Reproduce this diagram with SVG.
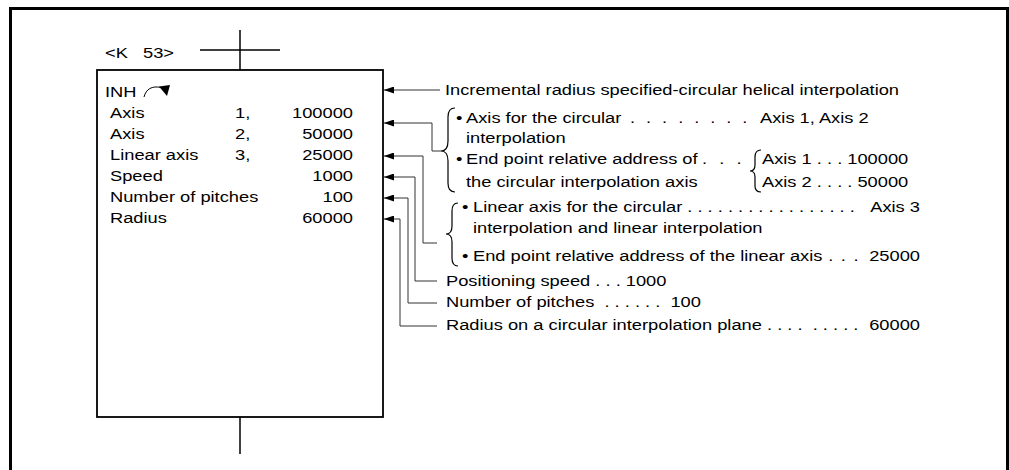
<svg xmlns="http://www.w3.org/2000/svg" width="1009" height="470" viewBox="0 0 1009 470">
<defs>
<marker id="ah" viewBox="0 0 10 7" refX="10" refY="3.5" markerWidth="10" markerHeight="7" markerUnits="userSpaceOnUse" orient="auto-start-reverse"><path d="M0,0 L10,3.5 L0,7 z" fill="#000"/></marker>
<style>
text{font-family:"Liberation Sans",Arial,sans-serif;font-size:15.5px;fill:#000;white-space:pre}
.conn{fill:none;stroke:#333;stroke-width:1}
.brace{fill:none;stroke:#000;stroke-width:1.2}
.frame{stroke:#000;stroke-width:3;fill:none}
.box{fill:#fff;stroke:#000;stroke-width:1.8}
.stub{stroke:#000;stroke-width:1.5}
.end{text-anchor:end}
</style>
</defs>
<rect width="1009" height="470" fill="#fff"/>
<path class="frame" d="M10.5,470 V8.5 H1007.5 V470"/>

<g id="rung">
<line class="stub" x1="200" y1="50" x2="280" y2="50"/>
<line class="stub" x1="240" y1="30" x2="240" y2="70"/>
<line class="stub" x1="240" y1="417" x2="240" y2="454"/>
<g transform="scale(1.18 1)"><text x="88.98" y="58">&lt;K</text><text x="121.19" y="58">53&gt;</text></g>
</g>

<g id="step-K53">
<rect class="box" x="97" y="70" width="286" height="347"/>
<path d="M144,97 C146,89 152,85.5 161,87.5" fill="none" stroke="#000" stroke-width="1"/>
<polygon points="159,86.5 170,85 167,96" fill="#000"/>
<g transform="scale(1.18 1)">
<text x="88.98" y="97">INH</text>
<text x="93.22" y="118">Axis</text><text x="199.15" y="118">1,</text><text class="end" x="299.15" y="118">100000</text>
<text x="93.22" y="139">Axis</text><text x="199.15" y="139">2,</text><text class="end" x="299.15" y="139">50000</text>
<text x="93.22" y="160.5">Linear axis</text><text x="199.15" y="160.5">3,</text><text class="end" x="299.15" y="160.5">25000</text>
<text x="93.22" y="181.5">Speed</text><text class="end" x="299.15" y="181.5">1000</text>
<text x="93.22" y="202.5">Number of pitches</text><text class="end" x="299.15" y="202.5">100</text>
<text x="93.22" y="223.5">Radius</text><text class="end" x="299.15" y="223.5">60000</text>
</g>
</g>

<g id="connectors">
<path class="conn" marker-start="url(#ah)" d="M384,90 H440"/>
<path class="conn" marker-start="url(#ah)" d="M384,123 H432 V151 H441"/>
<path class="conn" marker-start="url(#ah)" d="M384,156 H423 V243 H437"/>
<path class="conn" marker-start="url(#ah)" d="M384,177 H415 V281 H437"/>
<path class="conn" marker-start="url(#ah)" d="M384,198 H408 V303 H437"/>
<path class="conn" marker-start="url(#ah)" d="M384,219 H400 V326 H437"/>
</g>

<g id="note-instruction">
<g transform="scale(1.18 1)"><text x="377.12" y="95.5">Incremental radius specified-circular helical interpolation</text></g>
</g>

<g id="note-circular-axes">
<path class="brace" d="M455,108 Q448,108 448,117 V141 Q448,151 441,151 Q448,151 448,161 V183 Q448,192 455,192"/>
<path class="brace" d="M761,150 Q755,150 755,157 V165 Q755,171 750,171 Q755,171 755,177 V186 Q755,192 761,192"/>
<g transform="scale(1.18 1)">
<text x="386.44" y="123">•</text><text x="394.92" y="123">Axis for the circular</text><text x="533.9" y="123" letter-spacing="2.5">. . . . . . . .</text><text x="644.07" y="123">Axis 1, Axis 2</text>
<text x="394.92" y="143">interpolation</text>
<text x="386.44" y="164.5">•</text><text x="394.92" y="164.5">End point relative address of</text><text x="594.9" y="164.5" letter-spacing="3">. . .</text><text x="645.76" y="164.5">Axis 1 . . . 100000</text>
<text x="394.92" y="187">the circular interpolation axis</text><text x="645.76" y="187">Axis 2 . . . . 50000</text>
</g>
</g>

<g id="note-linear-axis">
<path class="brace" d="M458,203 Q452,203 452,211 V226 Q452,234 446,234 Q452,234 452,242 V258 Q452,266 458,266"/>
<g transform="scale(1.18 1)">
<text x="391.53" y="212">•</text><text x="400.85" y="212">Linear axis for the circular . . . . . . . . . . . . . . . . .</text><text class="end" x="779.66" y="212">Axis 3</text>
<text x="400.85" y="233.5">interpolation and linear interpolation</text>
<text x="391.53" y="261">•</text><text x="400.85" y="261">End point relative address of the linear axis</text><text x="702" y="261" letter-spacing="1">. . .</text><text class="end" x="779.66" y="261">25000</text>
</g>
</g>

<g id="note-speed"><g transform="scale(1.18 1)"><text x="377.97" y="286">Positioning speed . . . 1000</text></g></g>
<g id="note-pitches"><g transform="scale(1.18 1)"><text x="377.97" y="307.5">Number of pitches  . . . . . .  100</text></g></g>
<g id="note-radius"><g transform="scale(1.18 1)"><text x="377.97" y="330.5">Radius on a circular interpolation plane . . . .  . . . . .</text><text class="end" x="779.66" y="330.5">60000</text></g></g>
</svg>
